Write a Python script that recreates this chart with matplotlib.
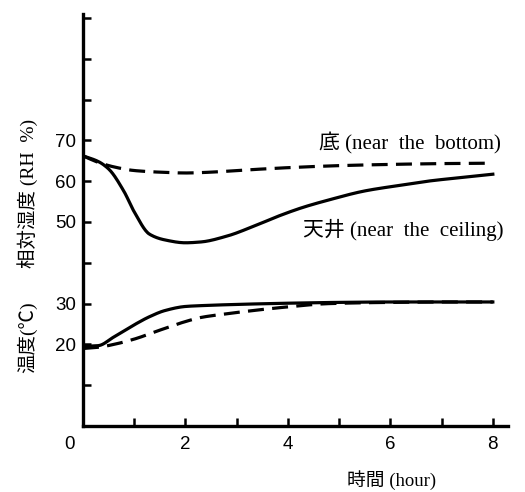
import matplotlib
matplotlib.use("Agg")
import matplotlib.pyplot as plt
import matplotlib.transforms as mtransforms
import numpy as np

plt.rcParams['font.family'] = ['Liberation Serif', 'Noto Sans CJK JP', 'DejaVu Sans']

# Data (hours)
rh_ceiling_t = [0, 0.3, 0.5, 0.8, 1.0, 1.3, 1.6, 2.0, 2.3, 2.8, 3.4, 3.85, 4.3, 4.8, 5.5, 6.2, 6.8, 7.4, 8.0]
rh_ceiling_v = [66.2, 64.8, 63.0, 57.5, 52.5, 47.0, 45.6, 44.9, 45.1, 46.5, 49.3, 51.6, 53.6, 55.4, 57.6, 59.0, 60.1, 60.9, 61.7]
rh_bottom_t = [0, 0.3, 0.6, 1.0, 1.5, 2.0, 2.5, 3.0, 4.0, 5.0, 6.0, 7.0, 8.0]
rh_bottom_v = [66.2, 64.6, 63.5, 62.6, 62.2, 62.0, 62.2, 62.6, 63.3, 63.8, 64.1, 64.3, 64.4]
temp_ceiling_t = [0, 0.3, 0.6, 1.0, 1.3, 1.6, 2.0, 2.3, 3.0, 4.0, 5.0, 6.0, 7.0, 8.0]
temp_ceiling_v = [19.5, 19.7, 21.8, 24.8, 26.8, 28.3, 29.3, 29.5, 29.8, 30.1, 30.3, 30.4, 30.4, 30.4]
temp_bottom_t = [0, 0.3, 0.6, 1.0, 1.5, 2.0, 2.3, 2.8, 3.25, 4.0, 4.8, 6.0, 7.0, 8.0]
temp_bottom_v = [19.0, 19.3, 20.0, 21.3, 23.5, 25.6, 26.6, 27.5, 28.2, 29.2, 30.0, 30.3, 30.4, 30.4]

ytick_vals = [0, 10, 20, 30, 40, 50, 60, 70, 80, 90, 100]
ytick_labels = ['', '', '20', '30', '', '50', '60', '70', '', '', '']
xtick_major = [0, 2, 4, 6, 8]
xtick_minor = [1, 3, 5, 7]

def smooth(t, v):
    t = np.asarray(t, float); v = np.asarray(v, float)
    # monotone cubic (PCHIP) interpolation for smooth hand-drawn look
    h = np.diff(t); d = np.diff(v) / h
    m = np.zeros_like(v)
    for k in range(1, len(v) - 1):
        if d[k-1] * d[k] > 0:
            w1 = 2*h[k] + h[k-1]; w2 = h[k] + 2*h[k-1]
            m[k] = (w1 + w2) / (w1/d[k-1] + w2/d[k])
    m[0] = d[0]; m[-1] = d[-1]
    tt = np.linspace(t[0], t[-1], 400)
    idx = np.clip(np.searchsorted(t, tt) - 1, 0, len(h) - 1)
    s = (tt - t[idx]) / h[idx]
    h00 = 2*s**3 - 3*s**2 + 1; h10 = s**3 - 2*s**2 + s
    h01 = -2*s**3 + 3*s**2; h11 = s**3 - s**2
    vv = h00*v[idx] + h10*h[idx]*m[idx] + h01*v[idx+1] + h11*h[idx]*m[idx+1]
    return tt, vv

fig = plt.figure(figsize=(5.25, 4.92), dpi=100)
ax = fig.add_axes([0.158, 0.134, 0.81, 0.838])

lw = 2.3
dash = (0, (5, 2.6))
ax.plot(*smooth(rh_ceiling_t, rh_ceiling_v), color='black', lw=lw)
ax.plot(*smooth(rh_bottom_t, rh_bottom_v), color='black', lw=lw, linestyle=dash)
ax.plot(*smooth(temp_ceiling_t, temp_ceiling_v), color='black', lw=lw)
ax.plot(*smooth(temp_bottom_t, temp_bottom_v), color='black', lw=lw, linestyle=dash)

ax.set_xlim(0, 8.3)
ax.set_ylim(0, 101)
for s in ['top', 'right']:
    ax.spines[s].set_visible(False)
for s in ['left', 'bottom']:
    ax.spines[s].set_linewidth(2.4)

ax.set_yticks(ytick_vals)
ax.set_yticklabels(ytick_labels, fontfamily='Liberation Sans', fontsize=13.5)
ax.set_xticks(xtick_major)
ax.set_xticks(xtick_minor, minor=True)
ax.set_xticklabels([str(v) for v in xtick_major], fontfamily='Liberation Sans', fontsize=13.5)
ax.tick_params(axis='y', direction='in', length=6, width=1.8, pad=5)
ax.tick_params(axis='x', which='both', direction='in', length=6, width=1.8, pad=7)

# shift the "0" label left, as in the original
lab0 = ax.get_xticklabels()[0]
lab0.set_transform(lab0.get_transform() + mtransforms.ScaledTranslation(-13/100, 0, fig.dpi_scale_trans))

ax.text(4.6, 69.2, '底 (near  the  bottom)', fontsize=15, ha='left', va='center')
ax.text(4.3, 48.0, '天井 (near  the  ceiling)', fontsize=15, ha='left', va='center')

fig.text(0.052, 0.606, '相対湿度 (RH  %)', rotation=90, fontsize=14, ha='center', va='center')
fig.text(0.052, 0.315, '温度(℃)', rotation=90, fontsize=14, ha='center', va='center')
fig.text(0.745, 0.025, '時間 (hour)', fontsize=13.5, ha='center', va='center')

fig.savefig('out.png', dpi=100)
